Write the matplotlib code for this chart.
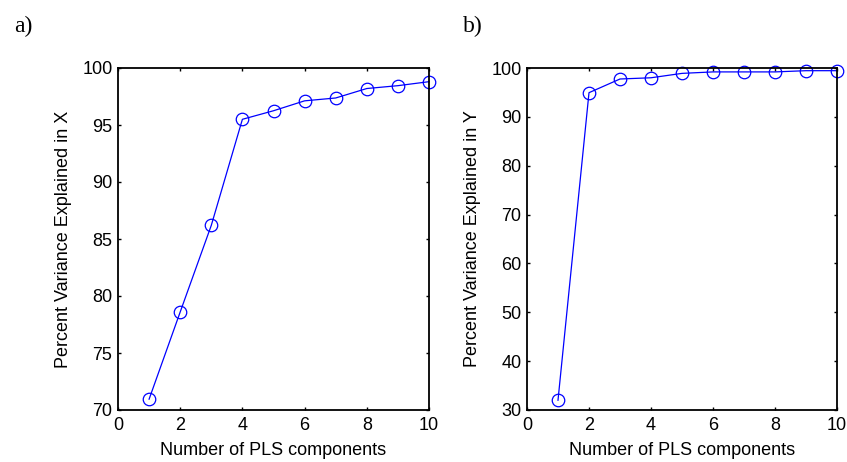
import matplotlib
matplotlib.use('Agg')
import matplotlib.pyplot as plt

# data
n_comp = [1, 2, 3, 4, 5, 6, 7, 8, 9, 10]
var_x = [70.95, 78.6, 86.2, 95.5, 96.25, 97.12, 97.37, 98.2, 98.45, 98.8]
var_y = [32.0, 94.95, 97.75, 98.0, 98.9, 99.2, 99.2, 99.2, 99.45, 99.45]

plt.rcParams['font.family'] = 'Liberation Sans'
plt.rcParams['font.size'] = 13

fig = plt.figure(figsize=(8.47, 4.62), dpi=100)
W, H = 847.0, 462.0
ax1 = fig.add_axes([118/W, 1-410/H, (429-118)/W, (410-68)/H])
ax2 = fig.add_axes([527/W, 1-410/H, (837-527)/W, (410-68)/H])


def style_ax(ax, yvals, ylims, yticks, ylabel):
    ax.plot(n_comp, yvals, color='blue', marker='o', markerfacecolor='none',
            markersize=9, linewidth=0.9, markeredgewidth=0.9, clip_on=False)
    ax.set_xlim(0, 10)
    ax.set_ylim(*ylims)
    ax.set_xticks(range(0, 11, 2))
    ax.set_yticks(yticks)
    ax.tick_params(direction='in', top=True, right=True, length=2.5, width=1, pad=4)
    ax.tick_params(axis='x', pad=5)
    for s in ax.spines.values():
        s.set_linewidth(1.3)
    ax.set_xlabel('Number of PLS components', labelpad=6)
    ax.set_ylabel(ylabel, labelpad=7)


style_ax(ax1, var_x, (70, 100), range(70, 101, 5), 'Percent Variance Explained in X')
style_ax(ax2, var_y, (30, 100), range(30, 101, 10), 'Percent Variance Explained in Y')

fig.text(14/W, 1-26/H, 'a)', family='Liberation Serif', fontsize=17, va='center')
fig.text(463/W, 1-26/H, 'b)', family='Liberation Serif', fontsize=17, va='center')

fig.savefig('out.png', dpi=100)
